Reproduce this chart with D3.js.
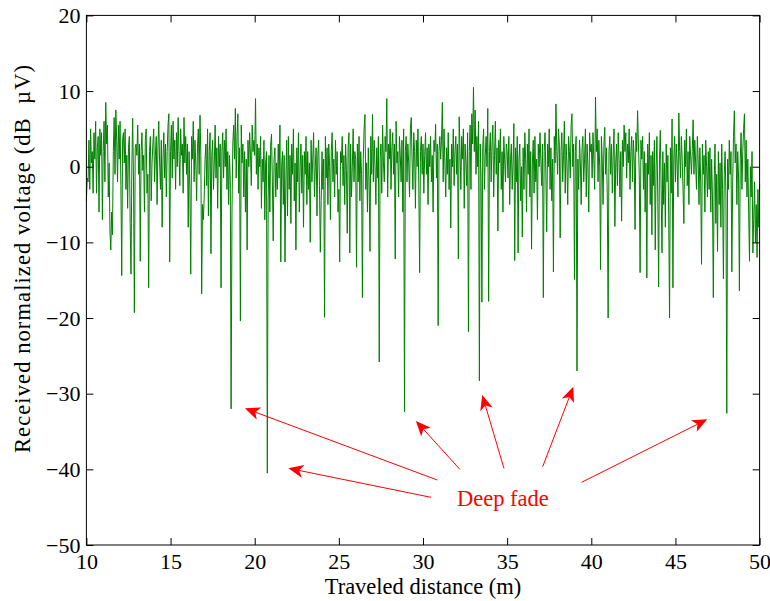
<!DOCTYPE html>
<html><head><meta charset="utf-8">
<script src="https://cdn.jsdelivr.net/npm/d3@7"></script>
<style>
body{margin:0;background:#fff}
svg text{font-family:"Liberation Serif","Times New Roman",Times,serif}
</style>
</head><body>
<svg id="c" width="770" height="601"></svg>
<script>
// ---- data ----
const xTicks = [10, 15, 20, 25, 30, 35, 40, 45, 50];
const yTicks = [-50, -40, -30, -20, -10, 0, 10, 20];
const startDistance = 10;   // m
const stepDistance = 0.05;  // m between samples
const voltage = [
/*10*/ -4.5,-1.5,-2.0,3.5,-3.0,5.0,0.5,2.0,-3.5,4.5,1.0,6.0,-3.5,2.5,4.0,-6.0,5.0,1.5,4.5,-7.0,
/*11*/ 2.0,6.0,-2.0,8.5,3.0,5.5,-4.0,0.5,-8.5,-11.0,-6.0,-9.0,2.0,6.5,-1.0,7.5,3.5,-2.0,5.5,1.0,
/*12*/ 6.0,-2.5,-14.4,3.5,4.5,0.5,5.0,-3.0,1.5,-5.5,2.5,4.0,-7.5,-14.2,0.0,6.4,-2.0,-19.3,2.5,3.0,
/*13*/ 1.5,5.5,-1.0,3.0,-12.5,2.0,4.5,-0.5,1.5,-6.0,3.5,5.0,-3.5,-1.0,-16.0,2.0,4.0,-4.5,0.5,3.0,
/*14*/ 5.0,-2.0,1.5,4.0,-5.0,2.5,6.0,0.5,-3.0,3.5,-8.0,1.0,4.5,-1.5,3.0,-4.0,2.0,5.5,7.0,-12.6,
/*15*/ 2.0,5.5,-1.5,6.0,1.0,3.5,-3.0,4.5,0.0,6.5,2.0,-2.5,5.0,1.5,3.0,-3.5,6.5,0.5,4.0,-1.0,
/*16*/ 3.0,-8.0,2.0,-3.0,-14.2,4.0,1.0,6.0,-2.0,3.5,0.5,-4.5,2.5,5.0,-1.0,6.8,1.5,-16.8,-5.0,-7.0,
/*17*/ -4.0,1.0,3.0,-2.5,5.0,-6.5,2.0,4.5,-11.5,1.5,3.5,-3.0,0.5,5.5,-1.5,2.5,-5.5,4.0,0.0,3.0,
/*18*/ -16.0,2.0,4.5,-1.5,3.5,0.0,5.0,-3.0,2.0,-5.0,1.5,-2.0,-32.0,-6.0,3.0,5.5,1.0,7.7,-1.5,4.0,
/*19*/ 7.0,-3.5,2.5,-20.4,5.5,0.5,3.0,-4.0,2.0,-6.0,1.0,-11.0,3.5,0.0,4.5,1.5,-2.5,5.5,2.0,3.5,
/*20*/ 1.5,9.0,-1.0,3.0,-3.0,2.5,0.0,4.0,-5.5,1.0,-2.0,3.5,-7.0,0.5,2.0,-40.5,-4.0,1.5,-6.0,3.0,
/*21*/ 4.3,-2.0,-9.8,1.0,2.5,-4.0,0.5,-3.0,3.0,-1.5,5.5,-12.6,0.0,2.0,-5.0,1.5,-12.6,-2.0,3.5,-6.5,
/*22*/ 4.0,-3.0,1.5,-7.5,3.0,-1.0,5.0,-4.5,0.5,-11.0,2.5,-2.0,4.5,-6.0,0.0,3.0,-3.5,1.5,-8.0,2.0,
/*23*/ -1.0,4.0,-5.0,2.0,-3.0,0.5,-10.0,3.5,-2.0,1.0,4.5,-4.0,0.0,2.5,-6.5,1.5,3.5,-2.5,-11.3,-4.5,
/*24*/ 2.0,-3.0,1.0,-19.9,4.0,-1.5,2.5,-5.0,3.0,0.0,-7.0,2.0,4.5,-2.0,1.0,-4.0,3.5,-1.0,2.0,-6.0,
/*25*/ -3.0,-12.6,2.0,0.5,4.0,-2.5,1.5,-5.0,3.0,-0.5,-8.8,2.5,4.5,-11.4,3.0,-4.0,0.0,5.0,-2.0,2.0,
/*26*/ 1.0,-13.3,3.0,-2.0,4.0,-4.5,2.0,-1.0,-17.3,1.0,5.0,6.9,-3.0,0.5,-6.0,2.5,-2.0,-11.2,4.0,-1.0,
/*27*/ 6.9,-2.0,3.5,0.0,-5.0,2.5,-1.5,4.0,-25.8,1.0,3.0,-3.5,5.5,0.5,-2.0,4.0,2.0,9.0,-4.0,3.0,
/*28*/ 1.0,5.0,-3.0,2.5,4.5,-1.0,3.0,-12.2,6.0,0.5,2.0,-4.0,4.0,1.5,-2.0,3.5,-6.0,5.0,-32.4,2.0,
/*29*/ 4.0,-2.0,3.0,0.5,-4.0,5.0,6.5,1.0,-3.0,4.5,2.0,-5.5,3.5,0.0,5.0,-2.5,-14.0,2.0,4.0,-1.0,
/*30*/ 3.0,-3.5,1.5,4.5,-1.0,2.5,-5.0,3.0,0.0,4.0,-2.0,1.5,-6.0,3.5,2.0,5.6,-1.5,3.0,-21.0,2.0,
/*31*/ 4.0,1.0,3.5,8.5,-2.0,5.0,0.5,-4.0,2.5,-1.0,4.5,-3.0,1.0,-8.1,3.0,0.0,5.0,-2.5,2.0,4.0,
/*32*/ -1.0,3.0,-12.2,6.6,2.0,-3.0,4.0,1.0,5.0,-5.5,3.0,0.5,-2.5,4.5,-21.8,2.0,5.5,-3.0,7.0,3.0,
/*33*/ 10.5,2.0,7.5,-1.0,4.0,0.0,6.0,-28.3,3.0,-1.5,-17.9,2.5,5.0,-3.0,1.5,4.0,0.0,7.7,-17.8,2.0,
/*34*/ 4.5,-2.0,3.0,5.5,-4.0,1.5,6.0,-1.0,2.5,-8.5,3.5,0.5,5.0,-3.0,2.0,-6.0,4.0,1.0,-2.0,3.0,
/*35*/ 2.0,-1.5,4.0,-5.0,1.0,3.0,-3.0,0.5,5.7,-12.4,2.5,-2.0,4.0,-11.4,1.0,3.0,-4.5,0.0,-9.3,2.5,
/*36*/ -3.0,4.5,1.0,-6.0,3.0,-1.0,5.0,-4.0,2.0,-10.9,0.5,3.5,-3.5,4.0,-2.0,1.0,-7.0,3.0,0.0,4.5,
/*37*/ 1.0,-2.5,3.0,-17.3,2.0,4.5,-1.0,-8.6,3.0,0.0,5.0,-3.0,2.5,-4.5,1.0,-13.9,4.0,0.5,8.3,2.0,
/*38*/ -1.0,5.0,3.0,-9.4,2.0,4.5,-2.0,1.5,6.0,-3.5,3.0,0.5,-5.0,4.0,2.0,-1.5,5.5,7.0,0.0,3.0,
/*39*/ -14.9,2.0,4.0,-27.0,1.0,-3.0,3.5,0.5,-5.0,2.5,4.0,-2.0,1.0,5.0,-4.0,3.0,0.0,-6.0,4.5,2.0,
/*40*/ 3.0,-1.5,4.5,1.0,-3.0,9.2,2.0,5.0,-2.0,3.5,0.0,-13.6,4.0,1.0,-5.0,3.0,5.2,-1.0,2.5,-4.0,
/*41*/ -20.0,2.0,4.0,-1.0,3.0,-3.5,1.5,5.0,-7.9,0.5,3.0,-2.5,4.5,1.0,-4.0,2.0,-7.2,3.5,0.0,5.5,
/*42*/ 2.0,4.5,-1.5,3.0,0.5,5.0,-3.0,2.0,4.0,-2.0,3.5,1.0,-8.3,4.5,2.0,7.4,3.0,-1.0,-14.0,3.5,
/*43*/ 1.0,4.0,-3.0,2.0,-6.0,0.5,-14.7,3.0,-1.0,4.5,-5.0,1.5,-9.0,2.0,-2.5,3.5,-11.0,0.0,4.0,-4.0,
/*44*/ -15.9,1.0,4.8,-3.0,-11.4,2.0,-5.0,0.5,-8.0,3.0,-2.0,1.5,-6.5,-20.0,2.5,-3.5,6.3,-16.0,1.0,4.0,
/*45*/ -2.0,3.0,0.5,-4.0,7.1,2.0,-1.5,4.0,1.0,-3.0,-7.5,3.5,0.0,5.0,-2.5,2.0,-5.0,4.0,1.5,-1.0,
/*46*/ 2.0,6.2,-1.0,3.5,0.5,-3.0,4.0,1.0,-5.0,2.5,-2.0,-12.9,3.0,-1.0,1.5,-6.0,3.5,0.0,-4.0,2.0,
/*47*/ -3.0,2.5,-6.0,1.0,-4.0,-17.3,-2.0,3.0,-7.5,-1.0,-11.2,2.0,-5.0,0.5,-8.0,3.0,-3.0,-14.8,-1.0,2.0,
/*48*/ -4.0,-32.6,1.0,-3.0,3.5,-1.0,2.0,-13.9,-2.0,4.0,7.4,0.5,3.0,-5.0,2.0,-1.5,-16.4,1.0,4.5,-3.0,
/*49*/ 2.0,5.0,7.0,-2.0,3.5,-4.0,1.0,-6.0,-12.5,0.0,-4.0,2.0,-11.4,-7.0,-2.0,-10.0,-5.0,-12.0,-3.0,-8.0,
/*50*/ -2.4
];
// annotation arrows (data coordinates): tails near the label, tips at the fades
const arrowTails = [[30.85,-41.41],[30.48,-43.7],[32.19,-40.0],[34.81,-39.86],[37.11,-39.65],[39.43,-41.71]];
const arrowTips  = [[19.42,-31.93],[22.0,-39.86],[29.58,-33.61],[33.52,-30.17],[38.93,-29.08],[46.89,-33.39]];
const annotationText = "Deep fade";
const annotationPos = [34.75, -44.85];
const xLabel = "Traveled distance (m)";
const yLabel = "Received normalized voltage (dB  \u00B5V)";

// ---- chart ----
const svg = d3.select('#c');
const x = d3.scaleLinear().domain([10, 50]).range([86.4, 759.6]);
const y = d3.scaleLinear().domain([-50, 20]).range([545, 15.4]);
const fs = 22;
const serif = '"Liberation Serif","Times New Roman",Times,serif';

const distance = voltage.map((_, i) => startDistance + i * stepDistance);
const line = d3.line().x((d, i) => x(distance[i])).y(d => y(d));
svg.append('path').datum(voltage)
  .attr('d', line).attr('fill', 'none')
  .attr('stroke', '#008000').attr('stroke-width', 1);

function styleAxis(g) {
  g.select('.domain').remove();
  g.selectAll('line').attr('stroke', '#000');
  g.selectAll('text').attr('font-size', fs).attr('fill', '#000')
   .attr('font-family', serif);
}
svg.append('g').attr('transform', `translate(0,${y(-50)})`)
  .call(d3.axisBottom(x).tickValues(xTicks).tickSizeInner(-7).tickSizeOuter(0).tickPadding(8))
  .call(styleAxis);
svg.append('g').attr('transform', `translate(0,${y(20)})`)
  .call(d3.axisTop(x).tickValues(xTicks).tickSizeInner(-7).tickSizeOuter(0).tickFormat(''))
  .call(styleAxis);
svg.append('g').attr('transform', `translate(${x(10)},0)`)
  .call(d3.axisLeft(y).tickValues(yTicks).tickSizeInner(-7).tickSizeOuter(0).tickPadding(6))
  .call(styleAxis);
svg.append('g').attr('transform', `translate(${x(50)},0)`)
  .call(d3.axisRight(y).tickValues(yTicks).tickSizeInner(-7).tickSizeOuter(0).tickFormat(''))
  .call(styleAxis);

svg.append('rect')
  .attr('x', x(10)).attr('y', y(20))
  .attr('width', x(50) - x(10)).attr('height', y(-50) - y(20))
  .attr('fill', 'none').attr('stroke', '#000').attr('stroke-width', 1);

// axis titles
svg.append('text').attr('x', (x(10) + x(50)) / 2).attr('y', 594)
  .attr('text-anchor', 'middle').attr('font-size', 22.5).attr('font-family', serif).text(xLabel);
svg.append('text')
  .attr('transform', `translate(30,259) rotate(-90)`)
  .attr('text-anchor', 'middle').attr('font-size', 22.5).attr('font-family', serif)
  .attr('textLength', 388).attr('lengthAdjust', 'spacing')
  .attr('xml:space', 'preserve').style('white-space', 'pre').text(yLabel);

// annotations
const red = '#ff0000';
const L = 15, W = 6.5, notch = 4;
arrowTails.forEach((t, i) => {
  const sx = x(t[0]), sy = y(t[1]);
  const tx = x(arrowTips[i][0]), ty = y(arrowTips[i][1]);
  const dx = tx - sx, dy = ty - sy, len = Math.hypot(dx, dy);
  const ux = dx / len, uy = dy / len, nx = -uy, ny = ux;
  const bx = tx - L * ux, by = ty - L * uy;
  const mx = tx - (L - notch) * ux, my = ty - (L - notch) * uy;
  svg.append('line').attr('x1', sx).attr('y1', sy).attr('x2', mx).attr('y2', my)
    .attr('stroke', red).attr('stroke-width', 1);
  svg.append('path')
    .attr('d', `M${tx},${ty}L${bx + W * nx},${by + W * ny}L${mx},${my}L${bx - W * nx},${by - W * ny}Z`)
    .attr('fill', red).attr('stroke', 'none');
});
svg.append('text').attr('x', x(annotationPos[0])).attr('y', y(annotationPos[1]))
  .attr('text-anchor', 'middle').attr('font-size', 22.5).attr('font-family', serif)
  .attr('fill', red).text(annotationText);
</script>
</body></html>
